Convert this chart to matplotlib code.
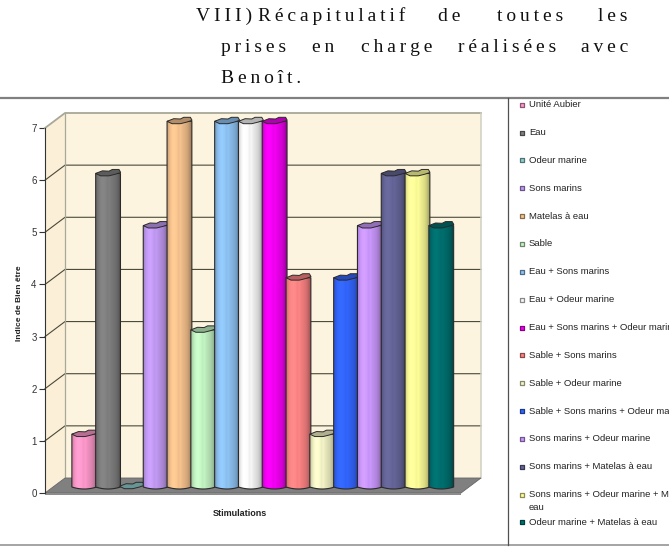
import numpy as np
import matplotlib
matplotlib.use('Agg')
import matplotlib.pyplot as plt
from matplotlib.patches import Polygon, Rectangle

plt.rcParams['font.family'] = ['Liberation Sans', 'DejaVu Sans']

categories = ['Unité Aubier', 'Eau', 'Odeur marine', 'Sons marins', 'Matelas à eau', 'Sable',
              'Eau + Sons marins', 'Eau + Odeur marine', 'Eau + Sons marins + Odeur marine',
              'Sable + Sons marins', 'Sable + Odeur marine', 'Sable + Sons marins + Odeur marine',
              'Sons marins + Odeur marine', 'Sons marins + Matelas à eau',
              'Sons marins + Odeur marine + Matelas à\neau', 'Odeur marine + Matelas à eau']
valeurs = [1, 6, 0, 5, 7, 3, 7, 7, 7, 4, 1, 4, 5, 6, 6, 5]
couleurs = ['#FF99CC', '#808080', '#8FCFCF', '#C39BF5', '#F8C48F', '#C4F5C4', '#8FC4F5', '#F8F8F8',
            '#F500F5', '#FF8585', '#F5F5C8', '#3366FF', '#CC99FF', '#666699', '#FFFF99', '#007070']
titre = [(196, 21, 'VIII)'), (258, 21, 'Récapitulatif'), (438, 21, 'de'), (497, 21, 'toutes'), (598, 21, 'les'),
         (221, 52, 'prises'), (312, 52, 'en'), (361, 52, 'charge'), (458, 52, 'réalisées'), (581, 52, 'avec'),
         (221, 83, 'Benoît.')]

# pixels par unité et décalage de la perspective
ux = 23.8
uy = 52.14
prof_x = 20 / ux
prof_y = 15 / uy
base = 4 / uy
demi = 12.4 / ux
xg, xd = -1.65, 15.83

# relief du cylindre, de gauche à droite
relief = np.array([0.86, 0.97, 1.03, 1.05, 1.02, 0.97, 0.99, 0.94, 0.90, 0.86, 0.78, 0.66])
# contour du dessus, en pixels depuis le coin bas gauche de la barre
cap_x = np.array([0, 6.7, 13.3, 16.7, 23.3, 25, 20, 13.3, 5])
cap_y = np.array([2.7, 5.3, 5, 6.7, 6.7, 3.7, 2, 0.3, 0.3])

fig = plt.figure(figsize=(6.69, 5.52), dpi=100)
fond = fig.add_axes([0, 0, 1, 1])
fond.set_xlim(0, 669)
fond.set_ylim(552, 0)
fond.axis('off')

# cadre du tableau
fond.plot([0, 669], [97.5, 97.5], color='#808080', lw=1.6)
fond.plot([0, 669], [544.8, 544.8], color='#8c8c8c', lw=1.1)
fond.plot([507.5, 507.5], [97.5, 544.8], color='#505050', lw=0.9)

for x, y, mot in titre:
    fond.text(x, y, '\u2009'.join(mot), family=['Liberation Serif', 'DejaVu Serif'], fontsize=14,
              color='#111111', va='baseline', ha='left')

# legende
for i, (nom, c) in enumerate(zip(categories, couleurs)):
    y = 104.7 + i * 27.85
    fond.scatter([522], [y], marker='s', s=11, color=c, edgecolor=np.array(matplotlib.colors.to_rgb(c)) * 0.55,
                 linewidth=0.9)
    fond.text(529, y, nom.split('\n')[0], fontsize=6.8, color='#222222', va='center', clip_on=True)
    if '\n' in nom:
        fond.text(529, y + 13, nom.split('\n')[1], fontsize=6.8, color='#222222', va='center')

ax = fig.add_axes([45 / 669, (552 - 493) / 552, 416 / 669, 365 / 552])
ax.patch.set_visible(False)

# murs et sol
ax.add_patch(Rectangle((xg + prof_x, prof_y), xd - xg, 7, fc='#FDF4DF', ec='none', zorder=1, clip_on=False))
ax.add_patch(Polygon([(xg, 0), (xg + prof_x, prof_y), (xg + prof_x, 7 + prof_y), (xg, 7)],
                     fc='#FBEFD8', ec='none', zorder=1, clip_on=False))
for v in range(1, 7):
    ax.plot([xg, xg + prof_x, xd + prof_x], [v, v + prof_y, v + prof_y], color='#4A4A3A', lw=0.8, zorder=2,
            clip_on=False)
ax.plot([xg, xg + prof_x, xd + prof_x], [7, 7 + prof_y, 7 + prof_y], color='#A8A898', lw=1.3, zorder=2, clip_on=False)
ax.plot([xg + prof_x, xg + prof_x], [prof_y, 7 + prof_y], color='#A8A898', lw=0.9, zorder=2, clip_on=False)
ax.plot([xd + prof_x, xd + prof_x], [prof_y, 7 + prof_y], color='#CFCFC0', lw=1.1, zorder=2, clip_on=False)
ax.add_patch(Polygon([(xg, 0), (xd, 0), (xd + prof_x, prof_y), (xg + prof_x, prof_y)],
                     fc='#808080', ec='#666666', lw=0.6, zorder=2, clip_on=False))
ax.add_patch(Rectangle((xg, -2 / uy), xd - xg, 2 / uy, fc='#8C8C8C', ec='none', zorder=2, clip_on=False))

# barres
for i, (v, c) in enumerate(zip(valeurs, couleurs)):
    rgb = np.array(matplotlib.colors.to_rgb(c))
    z = 3 + i * 0.1
    sommet = v + base
    if v > 0:
        t = np.linspace(-1, 1, 15)
        coin = sommet + 2.7 / uy
        contour = [(i - demi, coin)] + [(i + demi * a, base + 0.5 * base * a ** 2) for a in t] + [(i + demi, coin)]
        forme = Polygon(contour, fc='none', ec='#2A2A2A', lw=0.8, zorder=z + 0.02, clip_on=False)
        ax.add_patch(forme)
        image = np.clip(rgb[None, None, :] * relief[None, :, None], 0, 1)
        im = ax.imshow(image, extent=(i - demi, i + demi, 0, coin), aspect='auto', zorder=z,
                       interpolation='bilinear')
        im.set_clip_box(fig.bbox)
        im.set_clip_path(forme)
    # dessus du cylindre
    dessus = np.column_stack([i - demi + cap_x / ux, sommet + cap_y / uy])
    ax.add_patch(Polygon(dessus, fc=rgb * 0.72, ec='#2A2A2A', lw=0.7, zorder=z + 0.03, clip_on=False))

ax.set_xlim(xg, xd)
ax.set_ylim(0, 7)
ax.set_xticks([])
ax.set_yticks(range(8))
ax.tick_params(axis='y', length=4, width=0.8, color='#333333', labelsize=7, labelcolor='#333333', pad=2)
for cote in ['top', 'right', 'bottom']:
    ax.spines[cote].set_visible(False)
ax.spines['left'].set_color('#333333')
ax.spines['left'].set_linewidth(0.8)
ax.spines['left'].set_zorder(2.5)

ax.set_xlabel('Stimulations', fontsize=6.5, fontweight='bold', color='#222222')
ax.xaxis.set_label_coords((240 - 45) / 416, -16 / 365, transform=ax.transAxes)
ax.set_ylabel('Indice de Bien être', fontsize=6, fontweight='bold', color='#222222')
ax.yaxis.set_label_coords((23 - 45) / 416, (493 - 303) / 365, transform=ax.transAxes)

fig.savefig('out.png', dpi=100)
